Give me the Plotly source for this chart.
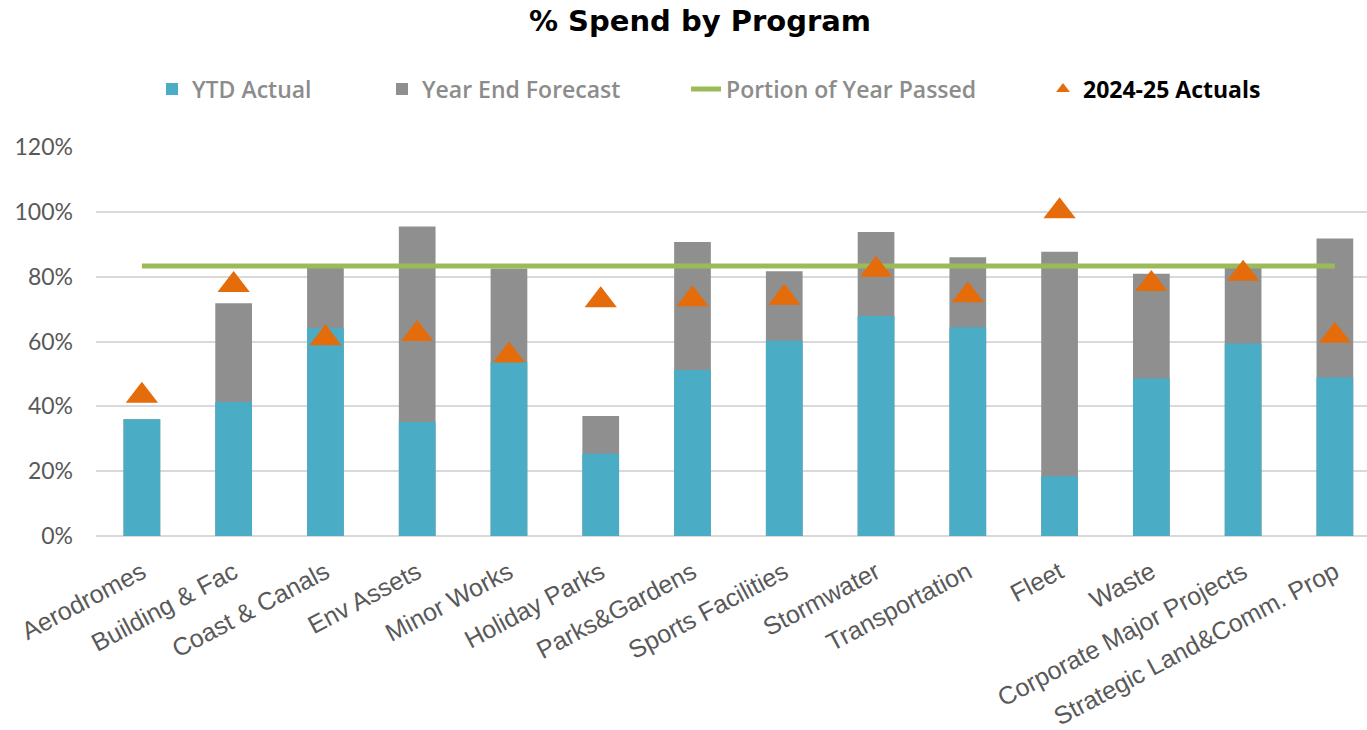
import plotly.graph_objects as go

# Capital works programs
programs = [
    "Aerodromes", "Building & Fac", "Coast & Canals", "Env Assets", "Minor Works",
    "Holiday Parks", "Parks&Gardens", "Sports Facilities", "Stormwater",
    "Transportation", "Fleet", "Waste", "Corporate Major Projects",
    "Strategic Land&Comm. Prop",
]

# Share of budget spent year-to-date
ytd_actual = [0.36, 0.413, 0.641, 0.352, 0.537, 0.254, 0.512, 0.602, 0.679,
              0.644, 0.184, 0.486, 0.594, 0.489]

# Forecast share of budget spent by year end
year_end_forecast = [0.36, 0.718, 0.828, 0.955, 0.825, 0.37, 0.907, 0.817, 0.938,
                     0.86, 0.877, 0.809, 0.828, 0.918]

# Prior-year (2024-25) full-year spend
actuals_2024_25 = [0.433, 0.774, 0.61, 0.623, 0.557, 0.727, 0.73, 0.735, 0.821,
                   0.743, 1.002, 0.777, 0.809, 0.618]

# Fraction of the financial year elapsed
portion_of_year = 0.833

BLUE = "#4BACC6"
GREY = "#8F8F8F"
GREEN = "#9BBB59"
ORANGE = "#E46C0A"

fig = go.Figure()

fig.add_trace(go.Bar(
    x=programs, y=year_end_forecast, name="Year End Forecast",
    marker=dict(color=GREY, line=dict(width=0)), width=0.4, legend="legend2",
))
fig.add_trace(go.Bar(
    x=programs, y=ytd_actual, name="YTD Actual",
    marker=dict(color=BLUE, line=dict(width=0)), width=0.4, legend="legend",
))
fig.add_trace(go.Scatter(
    x=programs, y=[portion_of_year] * len(programs), name="Portion of Year Passed",
    mode="lines", line=dict(color=GREEN, width=5), legend="legend3",
))
fig.add_trace(go.Scatter(
    x=programs, y=actuals_2024_25, name="2024-25 Actuals",
    mode="markers", marker=dict(symbol="triangle-up", size=28, color=ORANGE),
    legend="legend4",
))

L, R, T, B = 96, 0, 147, 194
W, H = 1367, 730
pw, ph = W - L - R, H - T - B


def px_x(px):
    return (px - L) / pw


def px_y(py):
    return (H - B - py) / ph


legend_font = dict(family="Open Sans", size=23, color="#8C8C8C", weight=600)
common = dict(orientation="h", yanchor="middle", y=px_y(89), xanchor="left",
              bgcolor="rgba(0,0,0,0)", borderwidth=0, itemwidth=30,
              font=legend_font, itemsizing="constant")

fig.update_layout(
    width=W, height=H,
    margin=dict(l=L, r=R, t=T, b=B, pad=0),
    paper_bgcolor="white", plot_bgcolor="white",
    barmode="overlay",
    title=dict(
        text="<b>% Spend by Program</b>",
        font=dict(family="DejaVu Sans", size=29, color="black"),
        x=700 / W, xanchor="center", xref="container",
        y=1 - 21 / H, yanchor="middle", yref="container",
    ),
    xaxis=dict(
        range=[-0.5, 13.35], tickangle=-28, showgrid=False, showline=False,
        ticks="", ticklabelstandoff=16,
        tickfont=dict(family="Liberation Sans", size=25, color="#595959"),
    ),
    yaxis=dict(
        range=[0, 1.2], dtick=0.2, tickformat=".0%", showgrid=True,
        gridcolor="#D9D9D9", gridwidth=2, zeroline=True, zerolinecolor="#D9D9D9",
        zerolinewidth=2, showline=False, ticks="", ticklabelstandoff=22,
        tickfont=dict(family="Lato", size=23, color="#595959"),
    ),
    showlegend=True,
    legend=dict(common, x=px_x(152)),
    legend2=dict(common, x=px_x(382)),
    legend3=dict(common, x=px_x(686)),
    legend4=dict(common, x=px_x(1043),
                 font=dict(family="Open Sans", size=23, color="black", weight="bold")),
)

fig.write_html("out.html")
